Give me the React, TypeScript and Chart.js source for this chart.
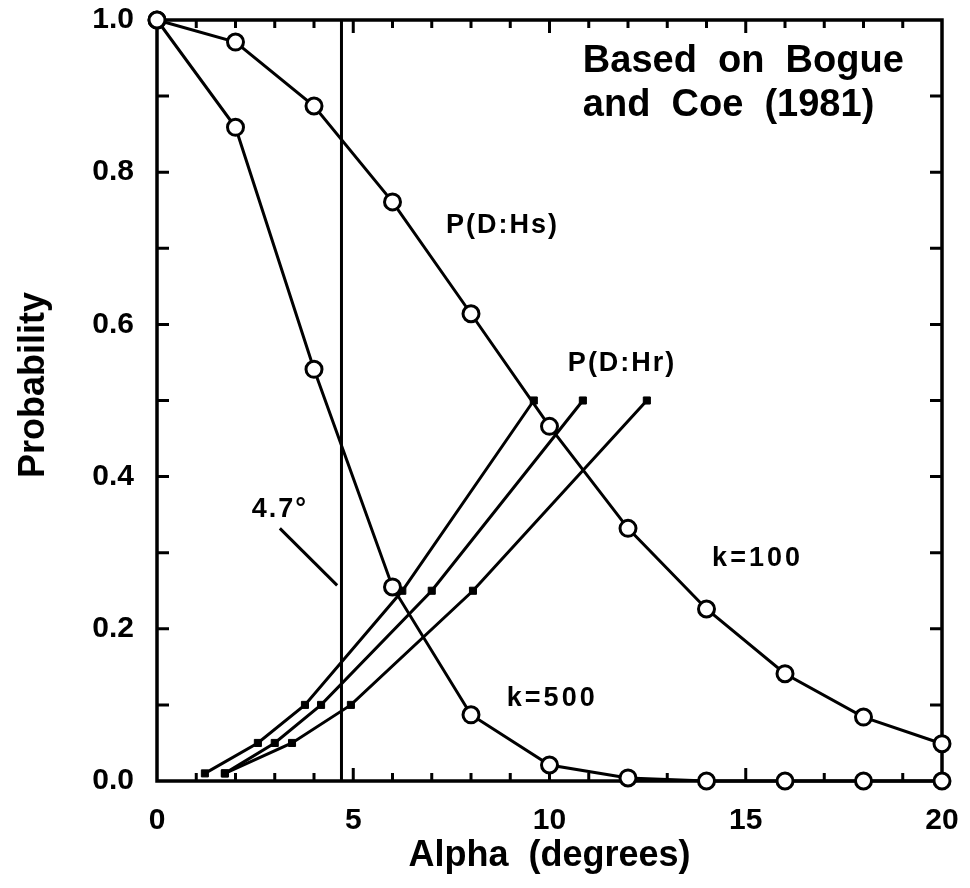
import React, { useEffect, useRef } from 'react';
import { Chart, registerables } from 'chart.js';

Chart.register(...registerables);

// ---- data ----
const alphaCircles = [0, 2, 4, 6, 8, 10, 12, 14, 16, 18, 20];
const probK100 = [1.0, 0.971, 0.887, 0.761, 0.614, 0.466, 0.332, 0.226, 0.141, 0.084, 0.049];
const probK500 = [1.0, 0.859, 0.541, 0.255, 0.087, 0.021, 0.004, 0.0, 0.0, 0.0, 0.0];

const hrProb = [0.01, 0.05, 0.1, 0.25, 0.5];
const hrAlphaA = [1.22, 2.57, 3.77, 6.25, 9.6];
const hrAlphaB = [1.73, 3.0, 4.18, 7.0, 10.85];
const hrAlphaC = [1.73, 3.44, 4.94, 8.05, 12.48];

const thresholdAlpha = [4.7, 4.7];
const thresholdProb = [0, 1];
const leaderAlpha = [3.13, 4.59];
const leaderProb = [0.332, 0.257];

const xTicks = [0, 5, 10, 15, 20];
const yTicks = [0.0, 0.2, 0.4, 0.6, 0.8, 1.0];

const FONT = '"Liberation Sans", Arial, Helvetica, sans-serif';

const pts = (xs: number[], ys: number[]) => xs.map((x, i) => ({ x, y: ys[i] }));

const framePlugin = {
  id: 'frame',
  beforeDatasetsDraw(chart: any) {
    const { ctx, chartArea: a, scales } = chart;
    const xs = scales.x, ys = scales.y;
    ctx.save();
    ctx.strokeStyle = '#000';
    ctx.lineWidth = 3.5;
    ctx.lineCap = 'butt';
    ctx.strokeRect(a.left, a.top, a.right - a.left, a.bottom - a.top);
    ctx.lineWidth = 3;
    for (let v = 1; v < 20; v++) {
      const px = xs.getPixelForValue(v);
      const len = v % 5 === 0 ? 13 : 8;
      ctx.beginPath();
      ctx.moveTo(px, a.bottom);
      ctx.lineTo(px, a.bottom - len);
      ctx.moveTo(px, a.top);
      ctx.lineTo(px, a.top + len);
      ctx.stroke();
    }
    for (let i = 1; i < 10; i++) {
      const py = ys.getPixelForValue(i / 10);
      ctx.beginPath();
      ctx.moveTo(a.left, py);
      ctx.lineTo(a.left + 12, py);
      ctx.moveTo(a.right, py);
      ctx.lineTo(a.right - 12, py);
      ctx.stroke();
    }
    ctx.restore();
  },
};

const textLabels = [
  { text: 'P(D:Hs)', x: 8.8, y: 0.73, size: 27, spacing: 2, align: 'center' },
  { text: 'P(D:Hr)', x: 11.85, y: 0.549, size: 27, spacing: 2, align: 'center' },
  { text: 'k=100', x: 15.3, y: 0.292, size: 27, spacing: 3, align: 'center' },
  { text: 'k=500', x: 10.07, y: 0.108, size: 27, spacing: 3, align: 'center' },
  { text: '4.7°', x: 3.13, y: 0.357, size: 27, spacing: 2, align: 'center' },
  { text: 'Based  on  Bogue', x: 10.85, y: 0.945, size: 38, spacing: 0, align: 'left' },
  { text: 'and  Coe  (1981)', x: 10.85, y: 0.888, size: 38, spacing: 0, align: 'left' },
];

const labelPlugin = {
  id: 'labels',
  afterDatasetsDraw(chart: any) {
    const { ctx, scales } = chart;
    ctx.save();
    ctx.fillStyle = '#000';
    ctx.textBaseline = 'middle';
    for (const l of textLabels) {
      ctx.font = `bold ${l.size}px ${FONT}`;
      (ctx as any).letterSpacing = `${l.spacing}px`;
      ctx.textAlign = l.align;
      ctx.fillText(l.text, scales.x.getPixelForValue(l.x), scales.y.getPixelForValue(l.y));
    }
    (ctx as any).letterSpacing = '0px';
    // y axis title
    ctx.translate(34, 385);
    ctx.rotate(-Math.PI / 2);
    ctx.font = `bold 36px ${FONT}`;
    ctx.textAlign = 'center';
    ctx.fillText('Probability', 0, 0);
    ctx.restore();
  },
};

export default function App() {
  const ref = useRef<HTMLCanvasElement | null>(null);
  useEffect(() => {
    document.body.style.margin = '0';
    const canvas = ref.current;
    if (!canvas) return;
    const circle = {
      borderColor: '#000',
      borderWidth: 3,
      pointRadius: 8,
      pointHoverRadius: 8,
      pointStyle: 'circle',
      pointBackgroundColor: '#fff',
      pointBorderColor: '#000',
      pointBorderWidth: 3,
      clip: false,
      tension: 0,
    };
    const square = {
      borderColor: '#000',
      borderWidth: 3,
      pointRadius: 5,
      pointHoverRadius: 5,
      pointStyle: 'rect',
      pointBackgroundColor: '#000',
      pointBorderColor: '#000',
      pointBorderWidth: 1,
      clip: false,
      tension: 0,
    };
    const plain = { borderColor: '#000', borderWidth: 3, pointRadius: 0, clip: false, tension: 0 };
    const chart = new Chart(canvas, {
      type: 'line',
      data: {
        datasets: [
          { label: 'k=100', data: pts(alphaCircles, probK100), ...circle },
          { label: 'k=500', data: pts(alphaCircles, probK500), ...circle },
          { label: 'Hr A', data: pts(hrAlphaA, hrProb), ...square },
          { label: 'Hr B', data: pts(hrAlphaB, hrProb), ...square },
          { label: 'Hr C', data: pts(hrAlphaC, hrProb), ...square },
          { label: '4.7', data: pts(thresholdAlpha, thresholdProb), ...plain },
          { label: 'leader', data: pts(leaderAlpha, leaderProb), ...plain },
        ] as any,
      },
      options: {
        animation: false,
        responsive: false,
        devicePixelRatio: 1,
        layout: { autoPadding: false, padding: { top: 20, right: 28, left: 0, bottom: 0 } },
        plugins: { legend: { display: false }, tooltip: { enabled: false } },
        scales: {
          x: {
            type: 'linear',
            min: 0,
            max: 20,
            afterFit: (s: any) => { s.height = 107; s.paddingLeft = 0; s.paddingRight = 0; },
            afterBuildTicks: (s: any) => { s.ticks = xTicks.map((v) => ({ value: v })); },
            grid: { display: false },
            border: { display: false },
            ticks: {
              color: '#000',
              padding: 14,
              maxRotation: 0,
              font: { family: FONT, size: 30, weight: 'bold' },
              callback: (v: any) => String(v),
            },
            title: {
              display: true,
              text: 'Alpha  (degrees)',
              color: '#000',
              font: { family: FONT, size: 36, weight: 'bold' },
              padding: { top: 0, bottom: 10 },
            },
          },
          y: {
            type: 'linear',
            min: 0,
            max: 1,
            afterFit: (s: any) => { s.width = 157; s.paddingTop = 0; s.paddingBottom = 0; },
            afterBuildTicks: (s: any) => { s.ticks = yTicks.map((v) => ({ value: v })); },
            grid: { display: false },
            border: { display: false },
            ticks: {
              color: '#000',
              padding: 15,
              font: { family: FONT, size: 30, weight: 'bold' },
              callback: (v: any) => Number(v).toFixed(1),
            },
          },
        },
      } as any,
      plugins: [framePlugin, labelPlugin],
    });
    return () => chart.destroy();
  }, []);
  return (
    <div style={{ width: 970, height: 888, background: '#fff' }}>
      <canvas ref={ref} width={970} height={888} style={{ display: 'block' }} />
    </div>
  );
}
